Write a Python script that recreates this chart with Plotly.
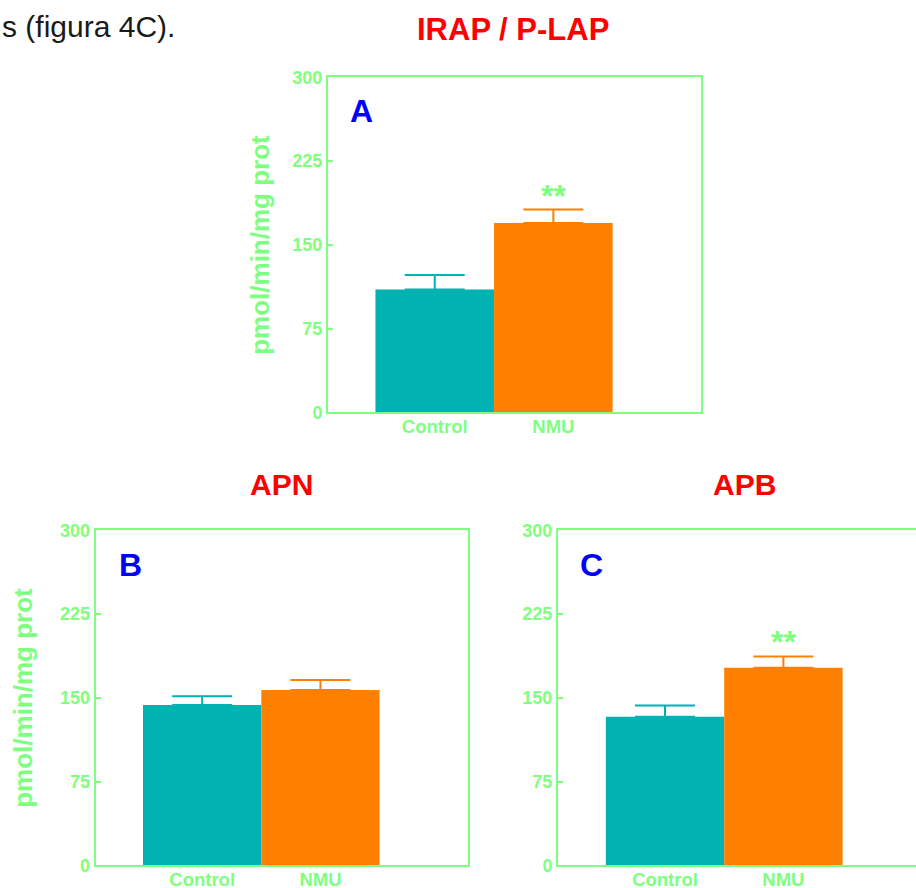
import plotly.graph_objects as go

# ---------------- data ----------------
categories = ["Control", "NMU"]
panel_titles = ["IRAP / P-LAP", "APN", "APB"]
panel_letters = ["A", "B", "C"]

irap_mean = [110.0, 169.5]
irap_err = [13.0, 12.0]
irap_sig = ["", "**"]

apn_mean = [143.5, 157.0]
apn_err = [8.0, 9.0]
apn_sig = ["", ""]

apb_mean = [133.0, 177.0]
apb_err = [10.0, 10.0]
apb_sig = ["", "**"]

y_ticks = [0, 75, 150, 225, 300]
y_label = "pmol/min/mg prot"
caption = "s (figura 4C)."

# ---------------- style ----------------
W, H = 916, 888
GREEN = "#7FFF7F"
TEAL = "#00B2B2"
ORANGE = "#FF8000"
BLUE = "#0000FF"
RED = "#FF0000"
FONT = "Liberation Sans, Arial, sans-serif"
bar_colors = [TEAL, ORANGE]

def px_x(p):
    return p / W

def px_y(p):
    return 1 - p / H

# panel geometry in pixels: (left, right, top, bottom)
panels = [
    dict(mean=irap_mean, err=irap_err, sig=irap_sig, box=(328, 701, 77.3, 412.3),
         right_line=True, ylabel_x=260, xr=[-0.9, 2.245]),
    dict(mean=apn_mean, err=apn_err, sig=apn_sig, box=(95.7, 467.7, 530.3, 865.3),
         right_line=True, ylabel_x=23, xr=[-0.9, 2.245]),
    dict(mean=apb_mean, err=apb_err, sig=apb_sig, box=(558, 916, 530.3, 865.3),
         right_line=False, ylabel_x=None, xr=[-0.904, 2.12]),
]
title_pos = [(513, 30), (281, 484), (744, 484)]
letter_pos = [(348, 111), (117, 565), (578, 565)]

fig = go.Figure()
annotations = []
layout = {}

for i, p in enumerate(panels):
    n = "" if i == 0 else str(i + 1)
    xa, ya = "x" + n, "y" + n
    for j, cat in enumerate(categories):
        fig.add_trace(go.Bar(
            x=[j], y=[p["mean"][j]], width=1.0,
            marker=dict(color=bar_colors[j], line=dict(width=0)),
            error_y=dict(type="data", array=[p["err"][j]], arrayminus=[0],
                         symmetric=False, color=bar_colors[j], thickness=2, width=30),
            xaxis=xa, yaxis=ya, showlegend=False, name=cat,
        ))
        if p["sig"][j]:
            annotations.append(dict(
                x=j, y=p["mean"][j] + p["err"][j], xref=xa, yref=ya,
                text=p["sig"][j], showarrow=False, yanchor="middle", yshift=14,
                font=dict(family=FONT, size=32, color=GREEN, weight="bold"),
            ))
    l, r, t, b = p["box"]
    layout["xaxis" + n] = dict(
        domain=[px_x(l), min(px_x(r), 1.0)], anchor=ya, range=p["xr"],
        tickvals=list(range(len(categories))), ticktext=categories, ticks="",
        ticklabelstandoff=-4,
        showline=True, linecolor=GREEN, linewidth=2, mirror=True,
        showgrid=False, zeroline=False, fixedrange=True, automargin=False,
        tickfont=dict(family=FONT, size=18.5, color=GREEN, weight="bold"),
    )
    layout["yaxis" + n] = dict(
        domain=[px_y(b), px_y(t)], anchor=xa, range=[0, 300],
        tickvals=y_ticks, ticks="inside", ticklen=5, tickwidth=2, tickcolor=GREEN,
        showline=True, linecolor=GREEN, linewidth=2, mirror=p["right_line"],
        showgrid=False, zeroline=False, automargin=False,
        tickfont=dict(family=FONT, size=18, color=GREEN, weight="bold"),
    )
    tx, ty = title_pos[i]
    annotations.append(dict(
        x=px_x(tx), y=px_y(ty), xref="paper", yref="paper", text=panel_titles[i],
        showarrow=False, xanchor="center", yanchor="middle",
        font=dict(family=FONT, size=31 if i == 0 else 30, color=RED, weight="bold"),
    ))
    lx, ly = letter_pos[i]
    annotations.append(dict(
        x=px_x(lx), y=px_y(ly), xref="paper", yref="paper", text=panel_letters[i],
        showarrow=False, xanchor="left", yanchor="middle",
        font=dict(family=FONT, size=32, color=BLUE, weight="bold"),
    ))
    if p["ylabel_x"] is not None:
        annotations.append(dict(
            x=px_x(p["ylabel_x"]), y=px_y((t + b) / 2), xref="paper", yref="paper",
            text=y_label, textangle=-90, showarrow=False,
            xanchor="center", yanchor="middle",
            font=dict(family=FONT, size=26, color=GREEN, weight="bold"),
        ))

annotations.append(dict(
    x=0, y=px_y(27), xref="paper", yref="paper", text=caption,
    showarrow=False, xanchor="left", yanchor="middle",
    font=dict(family=FONT, size=30, color="#1a1a1a"),
))

fig.update_layout(
    width=W, height=H,
    margin=dict(l=0, r=0, t=0, b=0, pad=0, autoexpand=False),
    paper_bgcolor="white", plot_bgcolor="white",
    barmode="overlay", showlegend=False, annotations=annotations,
    **layout,
)

fig.write_html("out.html", post_script="document.body.style.margin='0px';",
               config={"displayModeBar": False})
